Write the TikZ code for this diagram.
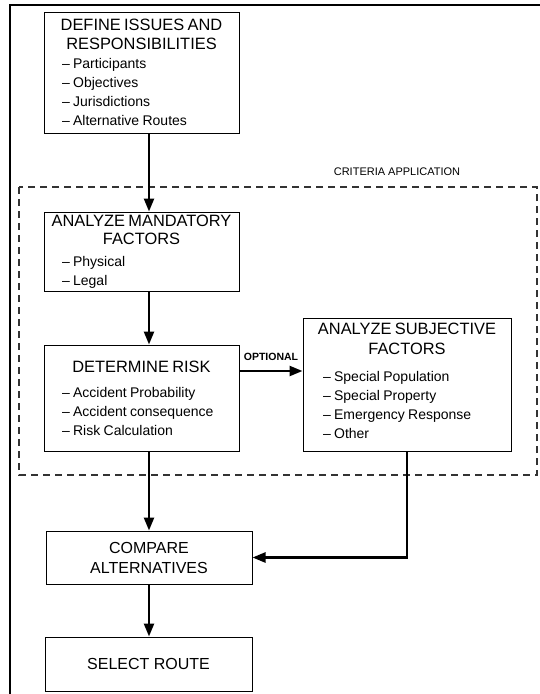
\documentclass[tikz,border=0pt]{standalone}
\usepackage{fontspec}
\setmainfont{Liberation Sans}
\usetikzlibrary{arrows.meta}

\newcommand{\ttl}{\fontsize{16.4}{19}\selectfont}
\newcommand{\itm}{\fontsize{14}{19}\selectfont}
\newcommand{\bul}[1]{\hspace*{13pt}\textendash\ #1}

\tikzset{
  stepbox/.style={draw, line width=1pt, inner xsep=5pt, inner ysep=0pt, align=left},
  endbox/.style={draw, line width=1pt, align=center, inner sep=0pt,
    font=\fontsize{16}{20}\selectfont},
  flow/.style={line width=2.4pt, -{Triangle[length=13pt,width=10pt]}},
  critframe/.style={line width=1.1pt, black!80, dash pattern=on 7pt off 5pt},
}

\begin{document}
\begin{tikzpicture}[x=1pt, y=-1pt]
    \useasboundingbox (0,0) rectangle (540,694);
    \draw[line width=1.2pt] (10,694) -- (10,5) -- (540,5);
    \draw[critframe] (19,187) rectangle (537,475);
    \node[anchor=base, font=\fontsize{11}{13}\selectfont] (critlbl) at (397,175) {CRITERIA APPLICATION};

    \coordinate (spine) at (149,0);
    \coordinate (optrow) at (0,371);

    \node[stepbox, text width=185pt, minimum height=121pt] (issues) at (141.5,72.5)
        {{\centering\ttl DEFINE ISSUES AND\\RESPONSIBILITIES\par}
         \itm\bul{Participants}\\\bul{Objectives}\\\bul{Jurisdictions}\\\bul{Alternative Routes}\par};
    \node[stepbox, text width=185pt, minimum height=79pt] (mandatory) at (141.5,251.5)
        {{\centering\fontsize{16.4}{18}\selectfont ANALYZE MANDATORY\\FACTORS\par}
         \vspace{3pt}\itm\bul{Physical}\\\bul{Legal}\par};
    \node[stepbox, text width=185pt, minimum height=106pt] (risk) at (141.5,398)
        {{\centering\ttl DETERMINE RISK\par}
         \vspace{6pt}\itm\bul{Accident Probability}\\\bul{Accident consequence}\\\bul{Risk Calculation}\par};
    \node[stepbox, text width=198pt, minimum height=133pt] (subj) at (407,384.5)
        {{\centering\fontsize{16.4}{20}\selectfont ANALYZE SUBJECTIVE\\FACTORS\par}
         \vspace{8pt}\itm\hspace*{2pt}\bul{Special Population}\\\hspace*{2pt}\bul{Special Property}\\
         \hspace*{2pt}\bul{Emergency Response}\\\hspace*{2pt}\bul{Other}\par
         \nointerlineskip\noindent\rule{0pt}{8pt}\par};
    \node[endbox, minimum width=206pt, minimum height=53pt] (compare) at (149,557.5) {COMPARE\\ALTERNATIVES};
    \node[endbox, minimum width=207pt, minimum height=54pt] (select) at (148.5,664) {SELECT ROUTE};

    \draw[flow] (issues.south -| spine) -- (mandatory.north -| spine);
    \draw[flow] (mandatory.south -| spine) -- (risk.north -| spine);
    \draw[flow] (risk.south -| spine) -- (compare.north -| spine);
    \draw[flow] (compare.south -| spine) -- (select.north -| spine);
    \draw[flow] (risk.east |- optrow) -- (subj.west |- optrow);
    \node[anchor=base, font=\bfseries\fontsize{10.5}{12}\selectfont] (optlbl) at (271,360) {OPTIONAL};
    \draw[flow] (subj.south) |- (compare.east);
\end{tikzpicture}
\end{document}
